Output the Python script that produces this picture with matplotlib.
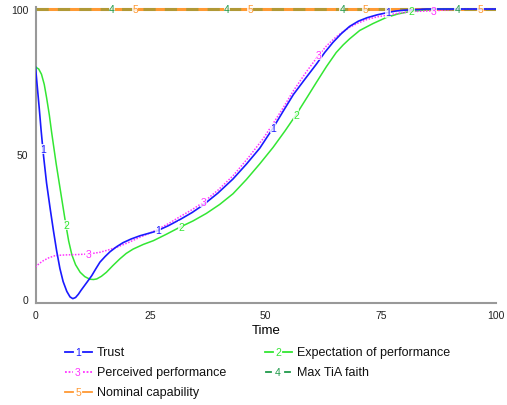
import numpy as np
import matplotlib.pyplot as plt
from matplotlib.lines import Line2D

plt.rcParams['font.family'] = ['Liberation Sans', 'DejaVu Sans']

# ── Data ─────────────────────────────────────────────────────────────
trust_t = [0, 0.4, 0.8, 1.2, 1.7, 2.4, 3.2, 3.9, 4.6, 5.3, 6.0, 6.8, 7.5,
           8.1, 8.7, 9.3, 9.9, 10.5, 11.1, 12.2, 13.1, 14, 15.1, 16.2,
           17.6, 19, 20.8, 22.7, 24.5, 26.3, 28.9, 31.5, 34, 36.4, 39.6,
           42.9, 45.8, 48.7, 51.6, 53.8, 56, 58.5, 61, 62.8, 64.6, 66.4,
           68.2, 70.1, 72, 74.2, 76.5, 78.2, 80, 85, 100]
trust_v = [80, 73, 66, 58.5, 50, 40, 31, 23.5, 16.5, 10.5, 6, 2.6, 0.7,
           0.1, 0.5, 1.6, 3, 4.3, 5.6, 8, 10.4, 12.7, 14.6, 16.3,
           18, 19.4, 20.7, 21.8, 22.6, 23.4, 25.3, 27.5, 29.8, 32.4, 36.5,
           41.4, 46.5, 52, 59, 64.8, 70.5, 75.8, 81, 85, 88.5, 91.5,
           94, 95.8, 97, 98, 98.8, 99.3, 99.6, 100, 100]

expect_t = [0, 0.7, 1.3, 1.9, 2.4, 3.0, 3.5, 4.0, 4.5, 5.1, 5.7, 6.6, 7.2,
            7.9, 8.7, 9.7, 10.7, 11.8, 12.6, 13.3, 14.3, 15.4, 16.8, 18.3,
            19.7, 21.2, 23.4, 25.6, 28.4, 31.3, 34.2, 37.1, 40, 42.9, 45.8,
            48.7, 51.6, 54.2, 56.7, 59, 61, 63.2, 65.3, 66.8, 68.2, 70.4,
            73.3, 76.2, 78.7, 81.2, 84.5, 88, 100]
expect_v = [80, 79.3, 77.5, 74, 69.5, 63.5, 57.5, 52, 46.5, 40.5, 34.5,
            25.5, 20, 15.2, 11.8, 9.2, 7.7, 6.8, 6.7, 6.9, 7.8, 9.2, 11.5,
            13.8, 15.7, 17.2, 18.8, 20.1, 22.3, 24.7, 26.9, 29.5, 32.6,
            36.3, 41.2, 46.6, 52.3, 58, 63.8, 69.6, 74.7, 80.2, 85, 87.6,
            89.7, 92.6, 95, 97.1, 98.3, 99.1, 99.7, 100, 100]

perceived_t = [0, 0.8, 1.7, 2.9, 4.2, 5.5, 6.8, 9, 11.5, 12.8, 14, 15.8,
               17.6, 20.1, 22.7, 24.5, 26.3, 28.9, 31.5, 34, 36.4, 39.6,
               42.9, 46.1, 49.4, 51.6, 53.8, 56, 58.8, 61.5, 63.2, 65, 66.6,
               68.2, 70.1, 72, 74.2, 76.5, 78.2, 80, 83, 86.3, 92, 100]
perceived_v = [11, 12.2, 13.2, 14.2, 14.9, 15.1, 15.2, 15.3, 15.5, 15.8,
               16.1, 16.9, 17.8, 19.4, 21.3, 22.5, 23.8, 26, 28.5, 30.8,
               33.3, 37.5, 42.5, 48.5, 55.2, 60.5, 66, 71.8, 78.3, 84.1,
               87.3, 90, 92, 93.7, 95.2, 96.4, 97.3, 97.9, 98.4, 98.8, 99.2,
               99.4, 100, 100]

time_t = [0, 100]
max_tia_faith = [100, 100]
nominal_capability = [100, 100]

names = ["Trust", "Expectation of performance", "Perceived performance",
         "Max TiA faith", "Nominal capability"]
colors = ["#1a1aff", "#33e633", "#ff33ff", "#1f9a4a", "#ff9933"]

# ── Figure ───────────────────────────────────────────────────────────
fig = plt.figure(figsize=(5.07, 4.06), dpi=100)
W, H = 507, 406
ax = fig.add_axes([35.5 / W, 1 - 304 / H, (496 - 35.5) / W, (304 - 8) / H])
ax.set_xlim(0, 100)
ax.set_ylim(-1.4, 100.7)

ax.plot(time_t, nominal_capability, color=colors[4], lw=2.2,
        solid_capstyle="butt", zorder=2)
ax.plot(time_t, max_tia_faith, color="#6f9a3a", lw=2.2, alpha=0.55,
        dashes=(4, 3), zorder=3)
ax.plot(expect_t, expect_v, color=colors[1], lw=1.1, zorder=4)
ax.plot(perceived_t, perceived_v, color=colors[2], lw=1.1,
        dashes=(1, 1), zorder=5)
ax.plot(trust_t, trust_v, color=colors[0], lw=1.2, zorder=6)

# number markers along each line
series = [(trust_t, trust_v), (expect_t, expect_v),
          (perceived_t, perceived_v), (time_t, max_tia_faith),
          (time_t, nominal_capability)]
offsets = [1.6, 6.6, 11.5, 16.6, 21.6]
for i, ((t, v), off) in enumerate(zip(series, offsets)):
    for tm in np.arange(off, 100, 25):
        ym = np.interp(tm, t, v)
        ax.text(tm, ym, str(i + 1), color=colors[i], fontsize=7.5,
                ha="center", va="center", zorder=7,
                bbox=dict(facecolor="white", edgecolor="none", pad=0.2,
                          alpha=0.8))

for s in ["top", "right"]:
    ax.spines[s].set_visible(False)
for s in ["left", "bottom"]:
    ax.spines[s].set_color("#999999")
    ax.spines[s].set_linewidth(1.5)
ax.set_xticks([0, 25, 50, 75, 100])
ax.set_yticks([0, 50, 100])
ax.tick_params(length=0, labelsize=7.5, colors="#222222", pad=5)
ax.set_xlabel("Time", fontsize=9.5, labelpad=3)

# ── Legend (drawn by hand, Vensim style) ─────────────────────────────
def legend_entry(x0, y, idx, dashed=False, dotted=False):
    fx = lambda px: px / W
    fy = 1 - y / H
    kw = dict(color=colors[idx], lw=1.3, transform=fig.transFigure)
    if dotted:
        kw["dashes"] = (1, 1)
    if dashed:
        fig.add_artist(Line2D([fx(x0 + 1), fx(x0 + 6)], [fy, fy], **kw))
        fig.add_artist(Line2D([fx(x0 + 20), fx(x0 + 25)], [fy, fy], **kw))
    else:
        fig.add_artist(Line2D([fx(x0), fx(x0 + 8)], [fy, fy], **kw))
        fig.add_artist(Line2D([fx(x0 + 18), fx(x0 + 27)], [fy, fy], **kw))
    fig.text(fx(x0 + 13), fy, str(idx + 1), color=colors[idx], fontsize=7.5,
             ha="center", va="center")
    fig.text(fx(x0 + 32), fy, names[idx], fontsize=9, ha="left",
             va="center", color="#111111")

legend_entry(65, 353, 0)
legend_entry(265, 353, 1)
legend_entry(65, 373, 2, dotted=True)
legend_entry(265, 373, 3, dashed=True)
legend_entry(65, 393, 4)

plt.savefig("out.png", dpi=100, facecolor="white")
